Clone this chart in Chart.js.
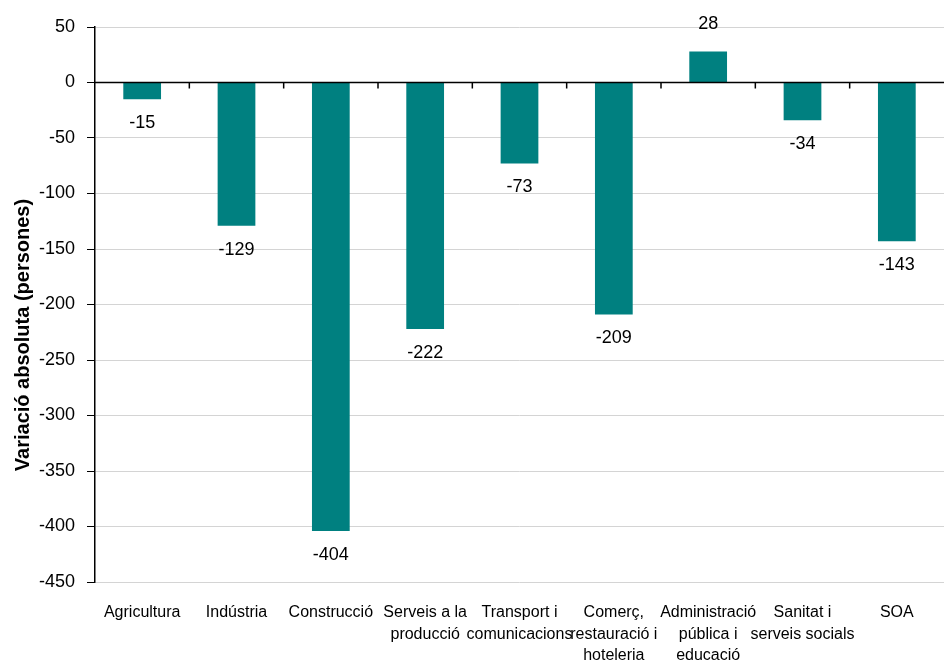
<!DOCTYPE html>
<html>
<head>
<meta charset="utf-8">
<script src="https://cdn.jsdelivr.net/npm/chart.js@4/dist/chart.umd.min.js"></script>
<style>
  html, body { margin: 0; padding: 0; background: #fff; }
  #wrap { width: 946px; height: 670px; position: relative; }
</style>
</head>
<body>
<div id="wrap"><canvas id="chart"></canvas></div>
<script>
// Data
const categories = [
  ['Agricultura'],
  ['Indústria'],
  ['Construcció'],
  ['Serveis a la', 'producció'],
  ['Transport i', 'comunicacions'],
  ['Comerç,', 'restauració i', 'hoteleria'],
  ['Administració', 'pública i', 'educació'],
  ['Sanitat i', 'serveis socials'],
  ['SOA']
];
const values = [-15, -129, -404, -222, -73, -209, 28, -34, -143];
const yTicks = [50, 0, -50, -100, -150, -200, -250, -300, -350, -400, -450];
const yTitle = 'Variació absoluta (persones)';

const FONT = 'Arial, "Liberation Sans", sans-serif';
const TEAL = '#008080';

// value labels under (or over) each bar
const valueLabels = {
  id: 'valueLabels',
  afterDatasetsDraw(chart) {
    const { ctx } = chart;
    const meta = chart.getDatasetMeta(0);
    ctx.save();
    ctx.font = '18px ' + FONT;
    ctx.fillStyle = '#000';
    ctx.textAlign = 'center';
    ctx.textBaseline = 'middle';
    meta.data.forEach((bar, i) => {
      const v = values[i];
      const y = v < 0 ? bar.y + 24 : bar.y - 27;
      ctx.fillText(String(v), bar.x, y);
    });
    ctx.restore();
  }
};

// zero line with small category ticks hanging from it
const zeroTicks = {
  id: 'zeroTicks',
  afterDatasetsDraw(chart) {
    const { ctx, scales: { x, y } } = chart;
    const y0 = y.getPixelForValue(0);
    ctx.save();
    ctx.strokeStyle = '#000';
    ctx.lineWidth = 1.5;
    ctx.beginPath();
    ctx.moveTo(chart.chartArea.left, y0);
    ctx.lineTo(chart.chartArea.right, y0);
    for (let i = 1; i < categories.length; i++) {
      const bx = (x.getPixelForValue(i - 1) + x.getPixelForValue(i)) / 2;
      ctx.moveTo(bx, y0);
      ctx.lineTo(bx, y0 + 6);
    }
    ctx.stroke();
    ctx.restore();
  }
};

// y title, centred on the whole canvas height like the original
const axisTitle = {
  id: 'axisTitle',
  afterDraw(chart) {
    const { ctx } = chart;
    ctx.save();
    ctx.translate(23, chart.height / 2);
    ctx.rotate(-Math.PI / 2);
    ctx.font = 'bold 20px ' + FONT;
    ctx.fillStyle = '#000';
    ctx.textAlign = 'center';
    ctx.textBaseline = 'middle';
    ctx.fillText(yTitle, 0, 0);
    ctx.restore();
  }
};

new Chart(document.getElementById('chart'), {
  type: 'bar',
  data: {
    labels: categories,
    datasets: [{
      data: values,
      backgroundColor: TEAL,
      borderWidth: 0,
      barPercentage: 0.8,
      categoryPercentage: 0.5
    }]
  },
  options: {
    responsive: true,
    maintainAspectRatio: false,
    animation: false,
    layout: { padding: { top: 27, right: 2, left: 0, bottom: 0 } },
    plugins: {
      legend: { display: false },
      tooltip: { enabled: false }
    },
    scales: {
      x: {
        grid: { display: false },
        border: { display: false },
        ticks: {
          color: '#000',
          font: { family: FONT, size: 16, lineHeight: 1.35 },
          padding: 12,
          maxRotation: 0,
          autoSkip: false
        },
        afterFit: s => { s.height = 88; }
      },
      y: {
        min: -450,
        max: 50,
        afterBuildTicks: s => { s.ticks = yTicks.map(v => ({ value: v })); },
        grid: {
          color: c => c.tick && c.tick.value === 0 ? '#000' : '#d4d4d4',
          lineWidth: 1,
          tickColor: '#000',
          tickLength: 8
        },
        border: { color: '#000', width: 1.5 },
        ticks: {
          color: '#000',
          font: { family: FONT, size: 18 },
          padding: 12
        },
        afterFit: s => { s.width = 95; }
      }
    }
  },
  plugins: [valueLabels, zeroTicks, axisTitle]
});
</script>
</body>
</html>
